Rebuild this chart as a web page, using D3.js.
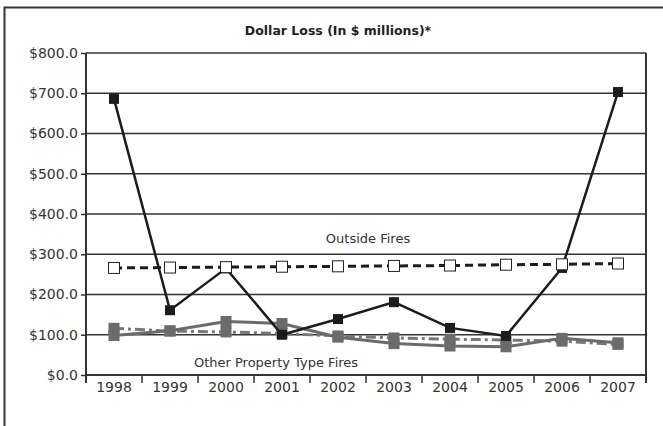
<!DOCTYPE html>
<html>
<head>
<meta charset="utf-8">
<script src="https://cdn.jsdelivr.net/npm/d3@7"></script>
<style>
  body { margin: 0; background: #fff; }
  svg { display: block; font-family: "DejaVu Sans", sans-serif; }
</style>
</head>
<body>
<div id="chart"></div>
<script>
"use strict";

// data
const years = ["1998", "1999", "2000", "2001", "2002", "2003", "2004", "2005", "2006", "2007"];
const otherFires = [686, 161, 265, 100, 139, 181, 117, 97, 266, 703];
const outsideFires = [266, 267, 268, 269, 270, 271, 272, 274, 275, 277];
const propertyA = [98, 110, 133, 128, 94, 78, 72, 70, 91, 80];
const propertyB = [116, 109, 107, 103, 97, 92, 89, 87, 84, 76];
const yTicks = [0, 100, 200, 300, 400, 500, 600, 700, 800];

const W = 663, H = 426;
const margin = { top: 53, right: 17, bottom: 51, left: 86 },
    width = W - margin.left - margin.right,
    height = H - margin.top - margin.bottom;

const svg = d3.select("#chart")
    .append("svg")
    .attr("width", W)
    .attr("height", H);

// outer frame (right and bottom run off the page)
svg.append("rect")
    .attr("x", 4.5).attr("y", 7.5)
    .attr("width", 700).attr("height", 500)
    .attr("fill", "none")
    .attr("stroke", "#333")
    .attr("stroke-width", 2);

svg.append("text")
    .attr("x", 338).attr("y", 35)
    .attr("text-anchor", "middle")
    .attr("font-size", 12.5)
    .attr("font-weight", "bold")
    .attr("fill", "#222")
    .text("Dollar Loss (In $ millions)*");

const g = svg.append("g")
    .attr("transform", `translate(${margin.left},${margin.top})`);

const x = d3.scaleBand().domain(years).range([0, width]);
const y = d3.scaleLinear().domain([0, 800]).range([height, 0]);

// gridlines
g.selectAll(".grid")
    .data(yTicks)
    .join("line")
    .attr("x1", 0).attr("x2", width)
    .attr("y1", d => y(d)).attr("y2", d => y(d))
    .attr("stroke", "#333")
    .attr("stroke-width", 1.5);

// right border
g.append("line")
    .attr("x1", width).attr("x2", width)
    .attr("y1", 0).attr("y2", height + 8)
    .attr("stroke", "#333")
    .attr("stroke-width", 2);

// y axis
const yAxis = g.append("g")
    .call(d3.axisLeft(y).tickValues(yTicks).tickSize(5).tickPadding(3)
        .tickFormat(d => "$" + d3.format(".1f")(d)));
yAxis.select(".domain").attr("stroke", "#333").attr("stroke-width", 2)
    .attr("d", `M0,0V${height + 8}`);
yAxis.selectAll(".tick line").attr("stroke", "#333").attr("stroke-width", 1.5);
yAxis.selectAll("text").attr("font-size", 14).attr("fill", "#333")
    .attr("font-family", "DejaVu Sans");

// x axis: ticks on band boundaries, labels centred
const xAxis = g.append("g").attr("transform", `translate(0,${height})`);
xAxis.selectAll("line.bound")
    .data(d3.range(years.length + 1))
    .join("line")
    .attr("x1", i => i * x.step()).attr("x2", i => i * x.step())
    .attr("y1", 0).attr("y2", 8)
    .attr("stroke", "#333")
    .attr("stroke-width", 1.5);
xAxis.append("line")
    .attr("x1", 0).attr("x2", width)
    .attr("stroke", "#333").attr("stroke-width", 2);
xAxis.selectAll("text")
    .data(years)
    .join("text")
    .attr("x", d => x(d) + x.bandwidth() / 2)
    .attr("y", 17)
    .attr("text-anchor", "middle")
    .attr("font-size", 14)
    .attr("fill", "#333")
    .text(d => d);

const cx = (d, i) => x(years[i]) + x.bandwidth() / 2;
const line = d3.line().x(cx).y(d => y(d));

function series(values, opts) {
    g.append("path")
        .datum(values)
        .attr("d", line)
        .attr("fill", "none")
        .attr("stroke", opts.stroke)
        .attr("stroke-width", opts.width)
        .attr("stroke-dasharray", opts.dash || null);
    const s = opts.size;
    g.append("g").selectAll("rect")
        .data(values)
        .join("rect")
        .attr("x", (d, i) => cx(d, i) - s / 2)
        .attr("y", d => y(d) - s / 2)
        .attr("width", s).attr("height", s)
        .attr("fill", opts.fill)
        .attr("stroke", opts.markStroke || "none")
        .attr("stroke-width", 1);
}

series(propertyB, { stroke: "#777", width: 3, dash: "10,4,3,4", size: 11, fill: "#6b6b6b" });
series(propertyA, { stroke: "#6b6b6b", width: 3, size: 11, fill: "#6b6b6b" });
series(otherFires, { stroke: "#1c1c1c", width: 2.5, size: 10, fill: "#1c1c1c" });
series(outsideFires, { stroke: "#1c1c1c", width: 3, dash: "8,5", size: 11, fill: "#fff", markStroke: "#222" });

// inline labels
g.append("text")
    .attr("x", 368 - margin.left).attr("y", 243 - margin.top)
    .attr("text-anchor", "middle")
    .attr("font-size", 13)
    .attr("fill", "#333")
    .text("Outside Fires");

g.append("text")
    .attr("x", 276 - margin.left).attr("y", 367 - margin.top)
    .attr("text-anchor", "middle")
    .attr("font-size", 13)
    .attr("fill", "#333")
    .text("Other Property Type Fires");
</script>
</body>
</html>
